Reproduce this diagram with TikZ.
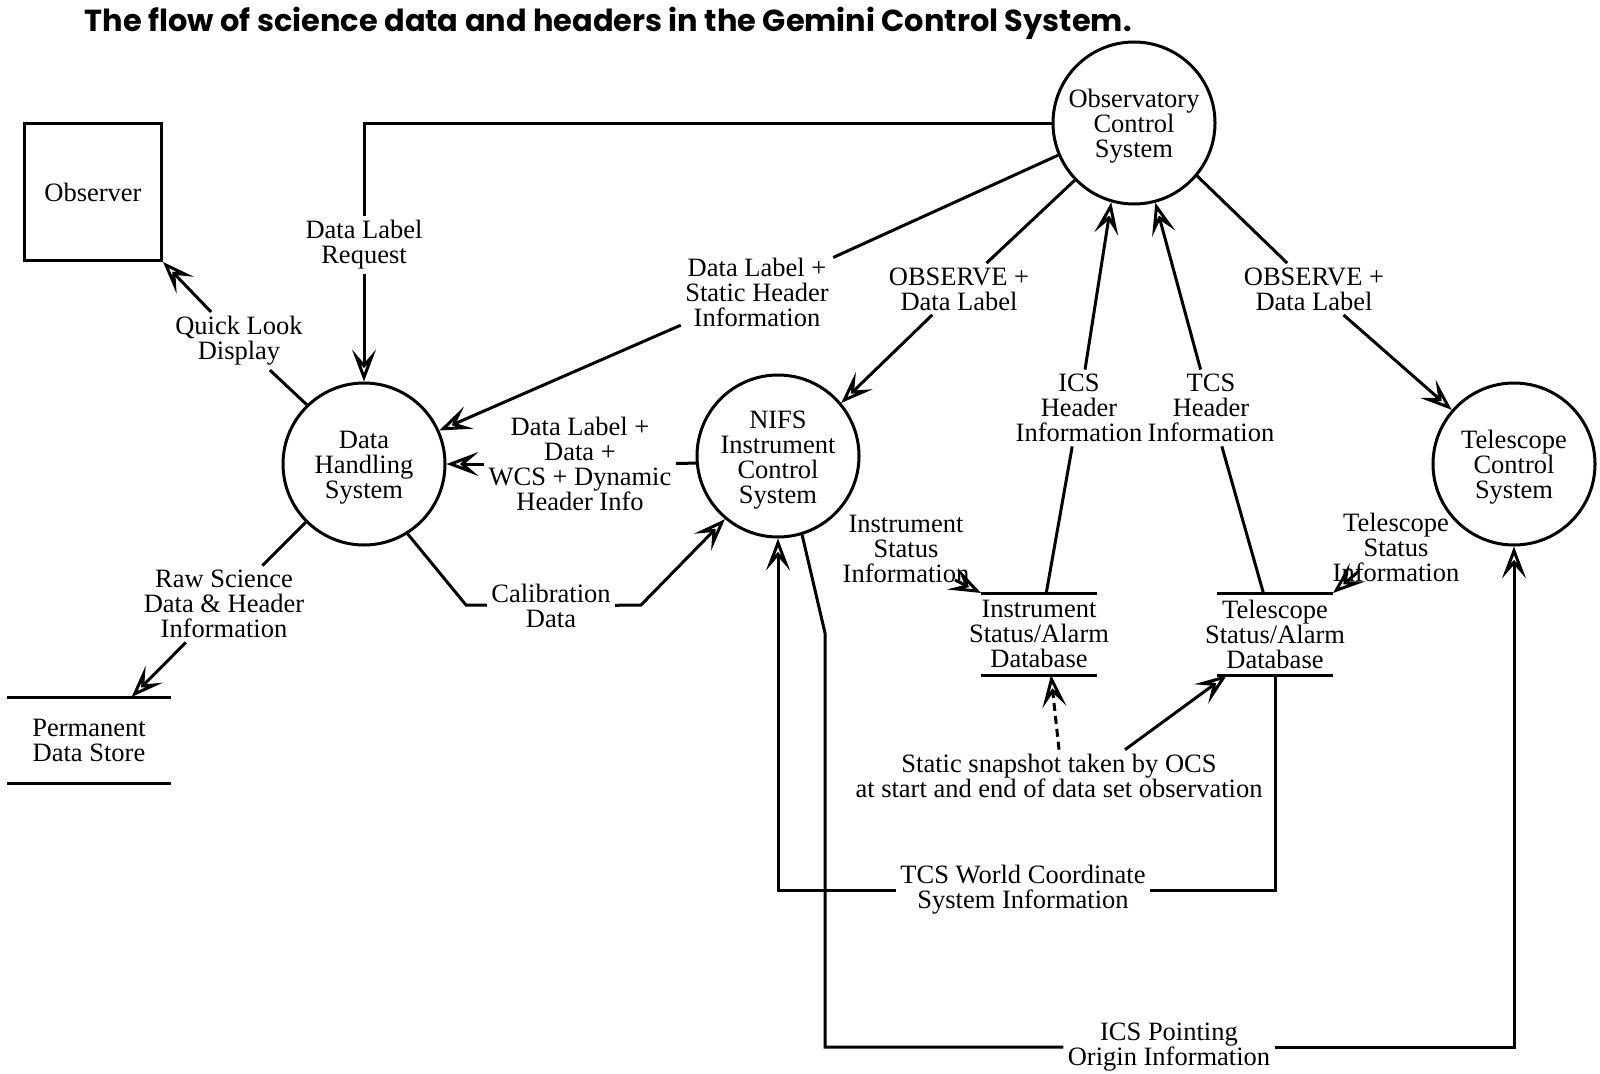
\documentclass[tikz,border=0pt]{standalone}
\usepackage{fontspec}
\setmainfont{Liberation Serif}
\newfontfamily\titlefont{Poppins}
\newcommand\toppush{\rule{0pt}{25pt}} % extra room above the first line of a bubble
\usetikzlibrary{arrows.meta}
\tikzset{
x=1pt, y=-1pt, % one unit is one pixel, y runs downwards
>={Stealth[open, length=32pt, width=24pt, inset=14pt]}, % open heads on the flows
process/.style={circle, draw, minimum size=162pt, inner sep=0pt, align=center}, % bubbles
terminator/.style={rectangle, draw, minimum size=137pt, align=center}, % external entity
store/.style={rectangle, minimum height=82pt, inner sep=0pt, outer sep=0pt, align=center}, % data stores, lines drawn later
flowlabel/.style={align=center, inner sep=3pt}, % text that sits in a flow
snapshot/.style={dash pattern=on 8pt off 5pt}, % the dashed flow
}

\begin{document}
\begin{tikzpicture}[line width=3pt, font=\fontsize{26.5}{25}\selectfont]
  \useasboundingbox (0,0) rectangle (1600,1073);

  \node[anchor=base west, font=\titlefont\bfseries\fontsize{30.4}{34}\selectfont] (title) at (80,32)
    {The flow of science data and headers in the Gemini Control System.};

  % entities, processes and stores
  \node[terminator] (obs) at (93,192) {Observer};
  \node[process] (ocs) at (1134,123) {\toppush Observatory\\Control\\System};
  \node[process] (dhs) at (364,464) {\toppush Data\\Handling\\System};
  \node[process] (nifs) at (778,456) {\toppush NIFS\\Instrument\\Control\\System};
  \node[process] (tcs) at (1514,464) {\toppush Telescope\\Control\\System};
  \node[store, minimum height=86pt] (pds) at (89,740) {Permanent\\Data Store};
  \node[store] (idb) at (1039,634) {Instrument\\Status/Alarm\\Database};
  \node[store] (tdb) at (1275,634) {Telescope\\Status/Alarm\\Database};
  \foreach \s/\w in {pds/82, idb/58, tdb/58}
    \draw ([xshift=-\w pt]\s.north) -- ([xshift=\w pt]\s.north)
          ([xshift=-\w pt]\s.south) -- ([xshift=\w pt]\s.south);

  % flow labels
  \node[flowlabel] (lReq) at (364,245) {Data Label\\Request};
  \node[flowlabel] (lStatic) at (757,292) {Data Label +\\Static Header\\Information};
  \node[flowlabel] (lObsN) at (959,289) {OBSERVE +\\Data Label};
  \node[flowlabel] (lObsT) at (1314,289) {OBSERVE +\\Data Label};
  \node[flowlabel] (lIcsHdr) at (1079,408) {ICS\\Header\\Information};
  \node[flowlabel] (lTcsHdr) at (1211,408) {TCS\\Header\\Information};
  \node[flowlabel] (lQuick) at (239,341) {Quick Look\\Display};
  \node[flowlabel] (lRaw) at (224,604) {Raw Science\\Data \& Header\\Information};
  \node[flowlabel] (lData) at (580,464) {Data Label +\\Data +\\WCS + Dynamic\\Header Info};
  \node[flowlabel] (lCalib) at (551,606) {Calibration\\Data};
  \node[flowlabel] (lInst) at (906,549) {Instrument\\Status\\Information};
  \node[flowlabel] (lTel) at (1396,547) {Telescope\\Status\\Information};
  \node[flowlabel] (lSnap) at (1059,776) {Static snapshot taken by OCS\\at start and end of data set observation};
  \node[flowlabel] (lWcs) at (1023,890) {TCS World Coordinate\\System Information};
  \node[flowlabel] (lPoint) at (1169,1047) {ICS Pointing\\Origin Information};

  % bends and loose ends
  \coordinate (calA) at (466,605);
  \coordinate (calB) at (641,605);
  \coordinate (instTail) at (955,580);
  \coordinate (telTail) at (1359,571);
  \coordinate (ptBend) at (825,633);

  % flows
  \draw (ocs.west) -| (lReq);
  \draw[->] (lReq) -- (dhs);
  \draw (ocs.203) -- (lStatic);
  \draw[->] (lStatic) -- (dhs.24);
  \draw (ocs.224) -- (lObsN);
  \draw[->] (lObsN) -- (nifs.40);
  \draw (ocs.320) -- (lObsT);
  \draw[->] (lObsT) -- (tcs.139);
  \draw (idb) -- (lIcsHdr);
  \draw[->] (lIcsHdr) -- (ocs.254);
  \draw (tdb) -- (lTcsHdr);
  \draw[->] (lTcsHdr) -- (ocs.285);
  \draw (dhs.134) -- (lQuick);
  \draw[->] (lQuick) -- (obs.south east);
  \draw (dhs.225) -- (lRaw);
  \draw[->] (lRaw) -- (pds);
  \draw (nifs.185) -- (lData);
  \draw[->] (lData) -- (dhs.east);
  \draw (dhs.302) -- (calA) -- (lCalib);
  \draw[->] (lCalib) -- (calB) -- (nifs.230);
  \draw[->] (instTail) -- ([xshift=-58pt]idb.north);
  \draw[->] (telTail) -- ([xshift=58pt]tdb.north);
  \draw[->, snapshot] (lSnap.north) -- ([xshift=12pt]idb.south);
  \draw[->] ([xshift=66pt]lSnap.north) -- ([xshift=-48pt]tdb.south);
  \draw (tdb.south) |- (lWcs);
  \draw[->] (lWcs) -| (nifs.south);
  \draw (nifs.287) -- (ptBend) |- (lPoint);
  \draw[->] (lPoint) -| (tcs.south);
\end{tikzpicture}
\end{document}
